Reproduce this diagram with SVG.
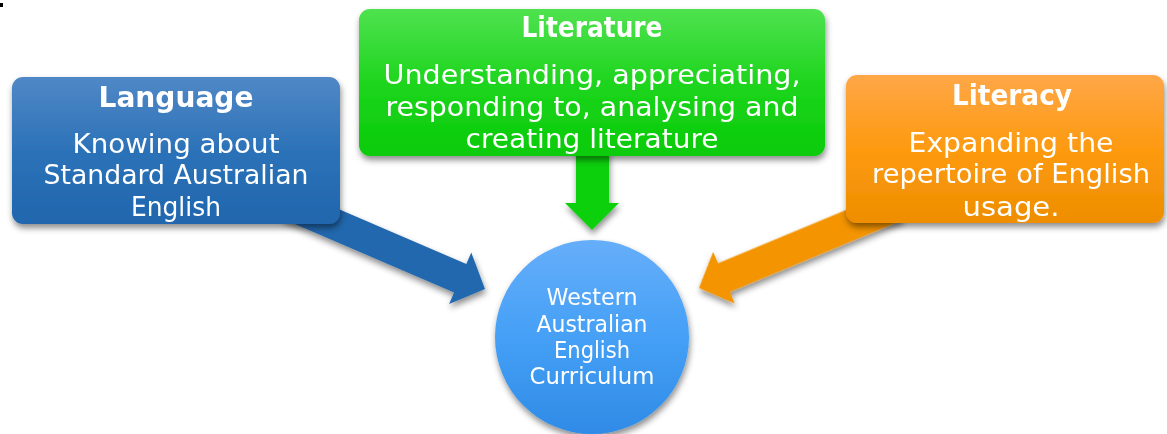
<svg xmlns="http://www.w3.org/2000/svg" width="1167" height="434" viewBox="0 0 1167 434">
<defs>
<linearGradient id="gBlue" x1="0" y1="0" x2="0" y2="1"><stop offset="0" stop-color="#5088C6"/><stop offset="0.5" stop-color="#2C72B8"/><stop offset="1" stop-color="#2066AE"/></linearGradient>
<linearGradient id="gGreen" x1="0" y1="0" x2="0" y2="1"><stop offset="0" stop-color="#4FE24F"/><stop offset="0.5" stop-color="#1ED51E"/><stop offset="1" stop-color="#08CB08"/></linearGradient>
<linearGradient id="gOrange" x1="0" y1="0" x2="0" y2="1"><stop offset="0" stop-color="#FFA748"/><stop offset="0.5" stop-color="#FD9A10"/><stop offset="1" stop-color="#EE8E00"/></linearGradient>
<linearGradient id="gCircle" x1="0" y1="0" x2="0" y2="1"><stop offset="0" stop-color="#66AEFA"/><stop offset="0.5" stop-color="#45A0F6"/><stop offset="1" stop-color="#2F8BE6"/></linearGradient>
<filter id="shadow" x="-20%" y="-20%" width="140%" height="150%"><feDropShadow dx="1" dy="4" stdDeviation="3" flood-color="#000" flood-opacity="0.45"/></filter>
<path id="arrowShape" d="M -215,-15.5 L -27,-15.5 L -27,-28 L 0,0 L -27,28 L -27,15.5 L -215,15.5 Z"/>
</defs>
<style>
.title{font-family:"DejaVu Sans","Liberation Sans",sans-serif;font-weight:bold;font-size:28px;fill:#fff;text-anchor:middle}
.body{font-family:"DejaVu Sans","Liberation Sans",sans-serif;font-weight:normal;font-size:27px;fill:#fff;text-anchor:middle}
.ctext{font-family:"DejaVu Sans","Liberation Sans",sans-serif;font-size:22.5px;fill:#fff;text-anchor:middle}
</style>
<rect x="0" y="3" width="3" height="4" fill="#000"/>
<g id="connectors" filter="url(#shadow)">
<use href="#arrowShape" fill="#2468AE" transform="translate(485,289) rotate(23.3)"/>
<path d="M 576,150 L 609,150 L 609,203 L 619,203 L 592,230 L 565,203 L 576,203 Z" fill="#10D010"/>
<use href="#arrowShape" fill="#F39400" transform="translate(699,288) rotate(157.4)"/>
</g>
<g id="language">
<rect x="12" y="77" width="328" height="147" rx="11" fill="url(#gBlue)" filter="url(#shadow)"/>
<text class="title" x="176" y="107" textLength="155" lengthAdjust="spacingAndGlyphs">Language</text>
<text class="body" x="176" y="153" textLength="207" lengthAdjust="spacingAndGlyphs">Knowing about</text>
<text class="body" x="176" y="184" textLength="265" lengthAdjust="spacingAndGlyphs">Standard Australian</text>
<text class="body" x="176" y="216" textLength="90" lengthAdjust="spacingAndGlyphs">English</text>
</g>
<g id="literature">
<rect x="359" y="9" width="466" height="147" rx="11" fill="url(#gGreen)" filter="url(#shadow)"/>
<text class="title" x="592" y="37" textLength="141" lengthAdjust="spacingAndGlyphs">Literature</text>
<text class="body" x="592" y="84" textLength="417" lengthAdjust="spacingAndGlyphs">Understanding, appreciating,</text>
<text class="body" x="592" y="116" textLength="413" lengthAdjust="spacingAndGlyphs">responding to, analysing and</text>
<text class="body" x="592" y="148" textLength="253" lengthAdjust="spacingAndGlyphs">creating literature</text>
</g>
<g id="literacy">
<rect x="846" y="75" width="318" height="148" rx="11" fill="url(#gOrange)" filter="url(#shadow)"/>
<text class="title" x="1012" y="105" textLength="120" lengthAdjust="spacingAndGlyphs">Literacy</text>
<text class="body" x="1011" y="152" textLength="205" lengthAdjust="spacingAndGlyphs">Expanding the</text>
<text class="body" x="1011" y="183" textLength="278" lengthAdjust="spacingAndGlyphs">repertoire of English</text>
<text class="body" x="1011" y="216" textLength="97" lengthAdjust="spacingAndGlyphs">usage.</text>
</g>
<g id="curriculum">
<circle cx="592" cy="337" r="97" fill="url(#gCircle)" filter="url(#shadow)"/>
<text class="ctext" x="592" y="305" textLength="91" lengthAdjust="spacingAndGlyphs">Western</text>
<text class="ctext" x="592" y="332" textLength="111" lengthAdjust="spacingAndGlyphs">Australian</text>
<text class="ctext" x="592" y="358" textLength="76" lengthAdjust="spacingAndGlyphs">English</text>
<text class="ctext" x="592" y="384" textLength="125" lengthAdjust="spacingAndGlyphs">Curriculum</text>
</g>
</svg>
